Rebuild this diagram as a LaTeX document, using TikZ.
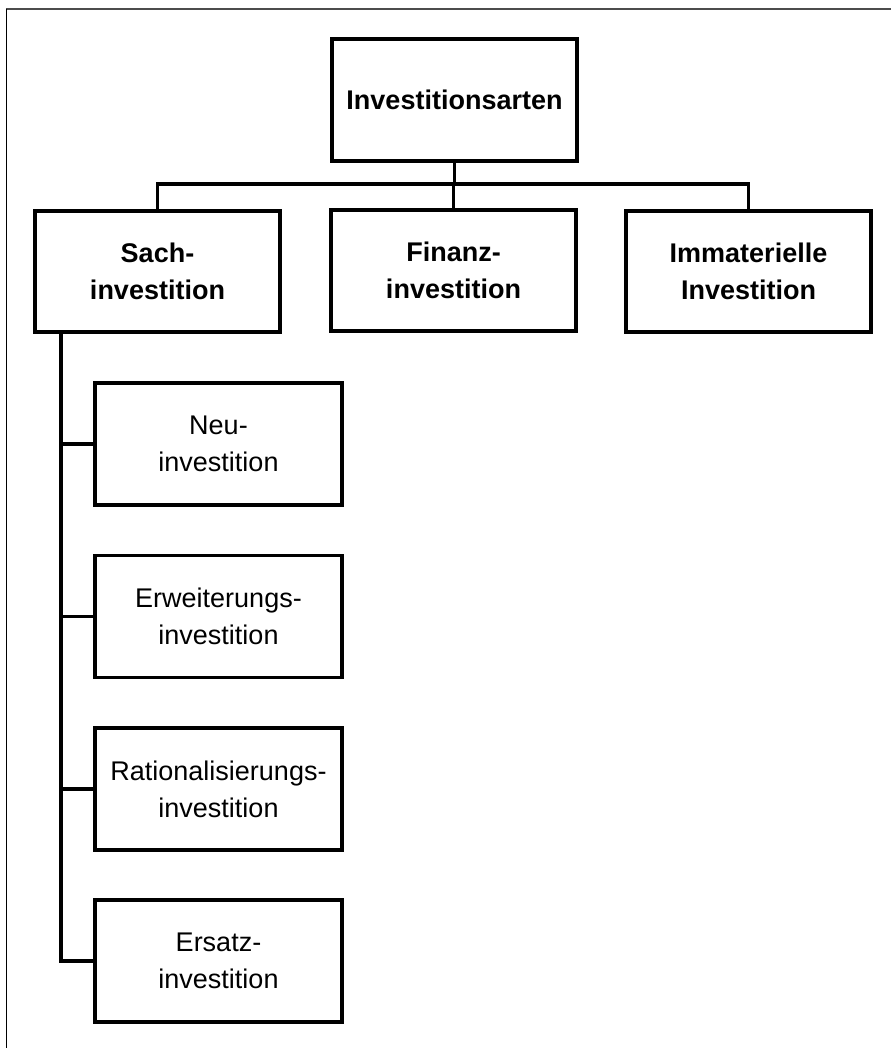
\documentclass[tikz,border=0pt]{standalone}
\usepackage{fontspec}
\setmainfont{Liberation Sans}
\begin{document}
\begin{tikzpicture}[x=1pt,y=-1pt,
  box/.style={draw=black,line width=3.3pt,rectangle,inner sep=0pt,align=center,
    font=\fontsize{27}{37}\selectfont},
  bigbox/.style={box,minimum width=245pt,minimum height=122pt,font=\fontsize{27}{37}\selectfont\bfseries},
  subbox/.style={box,minimum width=247pt,minimum height=122pt},
  conn/.style={draw=black,line width=3.3pt}]
\useasboundingbox (0,0) rectangle (891,1048);
% outer frame (top and left only)
\draw[line width=2.2pt,draw=black!70] (6,9) -- (891,9);
\draw[line width=1.4pt,draw=black] (6.6,9) -- (6.6,1048);

\node[bigbox] (top) at (454.5,100) {Investitionsarten};
\node[bigbox,minimum height=121pt] (sach) at (157.5,271.5) {Sach-\\investition};
\node[bigbox,minimum height=121pt] (fin) at (453.5,270.5) {Finanz-\\investition};
\node[bigbox,minimum height=121pt] (imm) at (748.5,271.5) {Immaterielle\\Investition};

\node[subbox] (neu) at (218.5,444) {Neu-\\investition};
\node[subbox] (erw) at (218.5,616.5) {Erweiterungs-\\investition};
\node[subbox] (rat) at (218.5,789) {Rationalisierungs-\\investition};
\node[subbox] (ers) at (218.5,961) {Ersatz-\\investition};

\coordinate (bus) at (454.5,184);
\coordinate (spine) at (61,332);

\draw[conn] (top.south) -- (top.south |- bus);
\draw[conn] (sach.north) -- (sach.north |- bus) -- (imm.north |- bus) -- (imm.north);
\draw[conn] (fin.north |- bus) -- (fin.north);

\draw[conn] (spine) |- (ers.west);
\draw[conn] (spine |- neu.west) -- (neu.west);
\draw[conn] (spine |- erw.west) -- (erw.west);
\draw[conn] (spine |- rat.west) -- (rat.west);
\end{tikzpicture}
\end{document}
